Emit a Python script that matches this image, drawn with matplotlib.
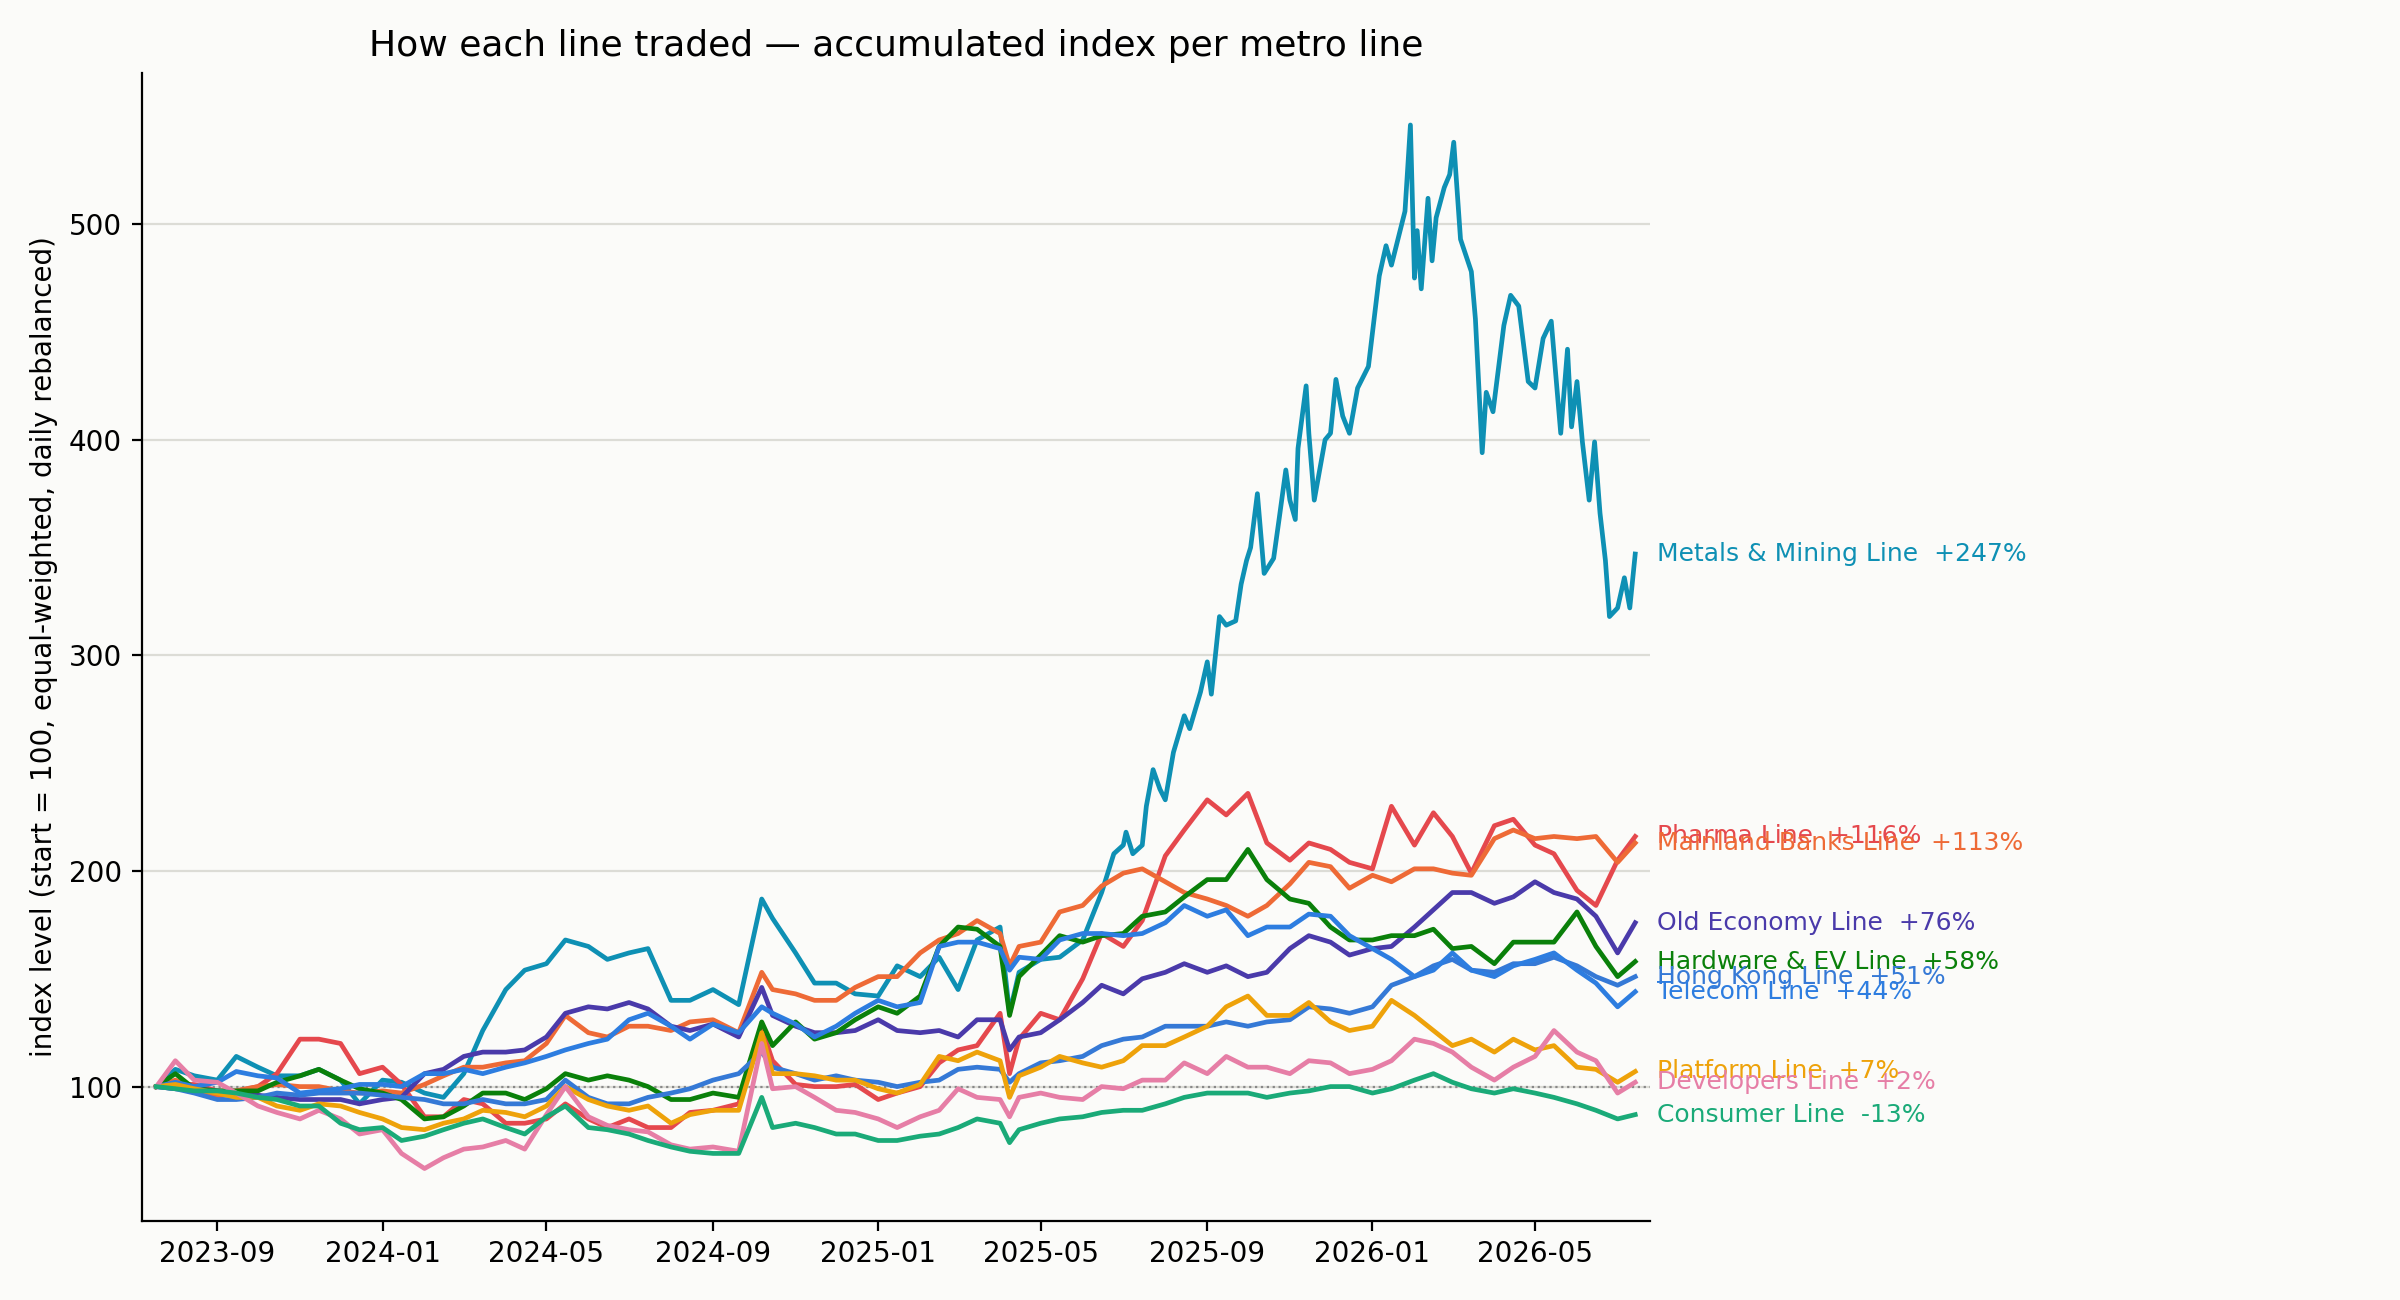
"""Accumulated index per metro line (start = 100, equal-weighted, daily rebalanced)."""

import matplotlib

matplotlib.use("Agg")
import matplotlib.dates as mdates
import matplotlib.pyplot as plt
import pandas as pd


DATES = [
    "2023-07-18", "2023-08-01", "2023-08-15", "2023-09-01", "2023-09-15", "2023-10-01",
    "2023-10-15", "2023-11-01", "2023-11-15", "2023-12-01", "2023-12-15",
    "2024-01-01", "2024-01-15", "2024-02-01", "2024-02-15", "2024-03-01", "2024-03-15",
    "2024-04-01", "2024-04-15", "2024-05-01", "2024-05-15", "2024-06-01", "2024-06-15",
    "2024-07-01", "2024-07-15", "2024-08-01", "2024-08-15", "2024-09-01", "2024-09-20",
    "2024-10-07", "2024-10-15", "2024-11-01", "2024-11-15", "2024-12-01", "2024-12-15",
    "2025-01-01", "2025-01-15", "2025-02-01", "2025-02-15", "2025-03-01", "2025-03-15",
    "2025-04-01", "2025-04-08", "2025-04-15", "2025-05-01", "2025-05-15", "2025-06-01",
    "2025-06-15", "2025-07-01", "2025-07-15", "2025-08-01", "2025-08-15", "2025-09-01",
    "2025-09-15", "2025-10-01", "2025-10-15", "2025-11-01", "2025-11-15", "2025-12-01",
    "2025-12-15",
    "2026-01-01", "2026-01-15", "2026-02-01", "2026-02-15", "2026-03-01", "2026-03-15",
    "2026-04-01", "2026-04-15", "2026-05-01", "2026-05-15", "2026-06-01", "2026-06-15",
    "2026-07-01", "2026-07-14",
]

# the metals line swings hard from mid-2025, so it gets a denser date list of its own
METALS_DATES = DATES[:48] + [
    "2025-06-24", "2025-07-01", "2025-07-03", "2025-07-08", "2025-07-15", "2025-07-18",
    "2025-07-23", "2025-07-28", "2025-08-01", "2025-08-07", "2025-08-15", "2025-08-19",
    "2025-08-27", "2025-09-01", "2025-09-04", "2025-09-10", "2025-09-15", "2025-09-22",
    "2025-09-26", "2025-09-30", "2025-10-03", "2025-10-08", "2025-10-13", "2025-10-20",
    "2025-10-24", "2025-10-29", "2025-11-01", "2025-11-05", "2025-11-07", "2025-11-13",
    "2025-11-15", "2025-11-19", "2025-11-27", "2025-12-01", "2025-12-05", "2025-12-10",
    "2025-12-15", "2025-12-21", "2025-12-29", "2026-01-06", "2026-01-11", "2026-01-15",
    "2026-01-25", "2026-01-29", "2026-02-01", "2026-02-03", "2026-02-06", "2026-02-11",
    "2026-02-14", "2026-02-17", "2026-02-23", "2026-02-27", "2026-03-02", "2026-03-07",
    "2026-03-15", "2026-03-18", "2026-03-23", "2026-03-26", "2026-03-31", "2026-04-08",
    "2026-04-13", "2026-04-19", "2026-04-26", "2026-05-01", "2026-05-07", "2026-05-13",
    "2026-05-20", "2026-05-25", "2026-05-28", "2026-06-01", "2026-06-05", "2026-06-10",
    "2026-06-14", "2026-06-18", "2026-06-22", "2026-06-25", "2026-07-01", "2026-07-06",
    "2026-07-10", "2026-07-14",
]

# index levels
metals = [
    100, 108, 105, 103, 114, 109, 105, 105, 108, 103, 92,
    103, 102, 97, 95, 106, 126, 145, 154, 157, 168, 165, 159,
    162, 164, 140, 140, 145, 138, 187, 178, 162, 148, 148, 143,
    142, 156, 151, 160, 145, 168, 174, 134, 153, 159, 160, 168, 190,
    208, 212, 218, 208, 212, 230, 247, 238, 233, 255, 272, 266,
    283, 297, 282, 318, 314, 316, 333, 344, 350, 375, 338, 345,
    363, 386, 372, 363, 396, 425, 403, 372, 400, 403, 428, 411,
    403, 424, 434, 476, 490, 481, 506, 546, 475, 497, 470, 512,
    483, 503, 517, 523, 538, 493, 478, 456, 394, 422, 413, 453,
    467, 462, 427, 424, 447, 455, 403, 442, 406, 427, 399, 372,
    399, 366, 344, 318, 322, 336, 322, 347,
]
pharma = [
    100, 101, 101, 98, 98, 100, 106, 122, 122, 120, 106,
    109, 101, 86, 86, 94, 92, 83, 83, 85, 92, 85, 81,
    85, 81, 81, 88, 89, 92, 127, 112, 101, 100, 100, 101,
    94, 97, 100, 111, 117, 119, 134, 106, 122, 134, 131, 150,
    171, 165, 177, 207, 219, 233, 226, 236, 213, 205, 213, 210, 204,
    201, 230, 212, 227, 216, 199, 221, 224, 212, 208, 191, 184, 205, 216,
]
mainland_banks = [
    100, 103, 99, 95, 98, 100, 101, 100, 100, 98, 97,
    98, 97, 101, 105, 109, 109, 111, 112, 120, 133, 125, 123,
    128, 128, 126, 130, 131, 125, 153, 145, 143, 140, 140, 146,
    151, 151, 162, 168, 171, 177, 171, 156, 165, 167, 181, 184,
    193, 199, 201, 195, 190, 187, 184, 179, 184, 194, 204, 202, 192,
    198, 195, 201, 201, 199, 198, 215, 219, 215, 216, 215, 216, 204, 213,
]
old_economy = [
    100, 99, 99, 98, 97, 96, 95, 94, 94, 94, 92,
    94, 95, 106, 108, 114, 116, 116, 117, 123, 134, 137, 136,
    139, 136, 128, 126, 129, 123, 146, 133, 128, 125, 125, 126,
    131, 126, 125, 126, 123, 131, 131, 117, 123, 125, 131, 139,
    147, 143, 150, 153, 157, 153, 156, 151, 153, 164, 170, 167, 161,
    164, 165, 174, 182, 190, 190, 185, 188, 195, 190, 187, 179, 162, 176,
]
hardware_ev = [
    100, 106, 99, 98, 98, 98, 102, 105, 108, 103, 99,
    97, 94, 85, 86, 91, 97, 97, 94, 99, 106, 103, 105,
    103, 100, 94, 94, 97, 95, 130, 119, 130, 122, 125, 131,
    137, 134, 142, 165, 174, 173, 165, 133, 151, 161, 170, 167,
    170, 171, 179, 181, 188, 196, 196, 210, 196, 187, 185, 174, 168,
    168, 170, 170, 173, 164, 165, 157, 167, 167, 167, 181, 165, 151, 158,
]
hong_kong = [
    100, 99, 97, 94, 94, 95, 97, 96, 97, 97, 97,
    96, 95, 94, 92, 92, 94, 92, 92, 94, 103, 95, 92,
    92, 95, 97, 99, 103, 106, 116, 109, 106, 103, 105, 103,
    102, 100, 102, 103, 108, 109, 108, 102, 106, 111, 112, 114,
    119, 122, 123, 128, 128, 128, 130, 128, 130, 131, 137, 136, 134,
    137, 147, 151, 156, 159, 154, 153, 157, 157, 160, 156, 151, 147, 151,
]
telecom = [
    100, 102, 100, 102, 107, 105, 104, 97, 98, 99, 101,
    101, 100, 106, 106, 108, 106, 109, 111, 114, 117, 120, 122,
    131, 134, 128, 122, 129, 125, 137, 134, 129, 123, 128, 134,
    140, 137, 139, 165, 167, 167, 164, 154, 160, 159, 168, 171,
    171, 170, 171, 176, 184, 179, 182, 170, 174, 174, 180, 179, 170,
    164, 159, 151, 154, 162, 154, 151, 156, 159, 162, 154, 148, 137, 144,
]
platform = [
    100, 101, 99, 97, 95, 95, 91, 89, 92, 91, 88,
    85, 81, 80, 83, 85, 89, 88, 86, 91, 100, 94, 91,
    89, 91, 83, 87, 89, 89, 125, 106, 106, 105, 103, 103,
    99, 97, 101, 114, 112, 116, 112, 95, 105, 109, 114, 111,
    109, 112, 119, 119, 123, 128, 137, 142, 133, 133, 139, 130, 126,
    128, 140, 133, 126, 119, 122, 116, 122, 117, 119, 109, 108, 102, 107,
]
developers = [
    100, 112, 103, 102, 97, 91, 88, 85, 89, 85, 78,
    80, 69, 62, 67, 71, 72, 75, 71, 87, 100, 86, 82,
    80, 79, 73, 71, 72, 70, 120, 99, 100, 95, 89, 88,
    85, 81, 86, 89, 99, 95, 94, 86, 95, 97, 95, 94,
    100, 99, 103, 103, 111, 106, 114, 109, 109, 106, 112, 111, 106,
    108, 112, 122, 120, 116, 109, 103, 109, 114, 126, 116, 112, 97, 102,
]
consumer = [
    100, 99, 98, 98, 97, 95, 94, 91, 91, 83, 80,
    81, 75, 77, 80, 83, 85, 81, 78, 86, 91, 81, 80,
    78, 75, 72, 70, 69, 69, 95, 81, 83, 81, 78, 78,
    75, 75, 77, 78, 81, 85, 83, 74, 80, 83, 85, 86,
    88, 89, 89, 92, 95, 97, 97, 97, 95, 97, 98, 100, 100,
    97, 99, 103, 106, 102, 99, 97, 99, 97, 95, 92, 89, 85, 87,
]

LINES = [
    ("Metals & Mining Line", METALS_DATES, metals, "#0e90b4"),
    ("Pharma Line", DATES, pharma, "#e5484d"),
    ("Mainland Banks Line", DATES, mainland_banks, "#ee6a36"),
    ("Old Economy Line", DATES, old_economy, "#4a3aaa"),
    ("Hardware & EV Line", DATES, hardware_ev, "#0a800a"),
    ("Hong Kong Line", DATES, hong_kong, "#3579d6"),
    ("Telecom Line", DATES, telecom, "#2d7de0"),
    ("Platform Line", DATES, platform, "#eea20a"),
    ("Developers Line", DATES, developers, "#e67ea6"),
    ("Consumer Line", DATES, consumer, "#1aaa78"),
]

BG = "#fbfbf9"


def main() -> None:
    fig, ax = plt.subplots(figsize=(12, 6.5), dpi=200)
    fig.patch.set_facecolor(BG)
    ax.set_facecolor(BG)
    fig.subplots_adjust(left=0.059, right=0.6875, bottom=0.061, top=0.944)

    for name, date_strings, values, color in LINES:
        dates = pd.to_datetime(date_strings)
        assert len(values) == len(dates), name
        ax.plot(dates, values, color=color, linewidth=1.7)
        change = values[-1] - 100
        # end label sits just right of the last point, overlaps are left as they are
        ax.annotate(
            f"{name}  {change:+.0f}%",
            xy=(dates[-1], values[-1]),
            xytext=(8, 0),
            textcoords="offset points",
            va="center",
            fontsize=9,
            color=color,
            annotation_clip=False,
        )

    ax.axhline(100, color="#888888", linestyle=":", linewidth=0.8, zorder=1)
    ax.margins(x=0.01)
    ax.grid(True, axis="y", color="#dcdcd6", linewidth=0.8)
    ax.set_axisbelow(True)
    for side in ("top", "right"):
        ax.spines[side].set_visible(False)

    ax.xaxis.set_major_locator(mdates.MonthLocator(bymonth=[1, 5, 9]))
    ax.xaxis.set_major_formatter(mdates.DateFormatter("%Y-%m"))
    ax.set_ylabel("index level (start = 100, equal-weighted, daily rebalanced)")
    ax.set_title("How each line traded — accumulated index per metro line", fontsize=13)

    fig.savefig("out.png", dpi=200, facecolor=BG)
    plt.close(fig)


if __name__ == "__main__":
    main()
